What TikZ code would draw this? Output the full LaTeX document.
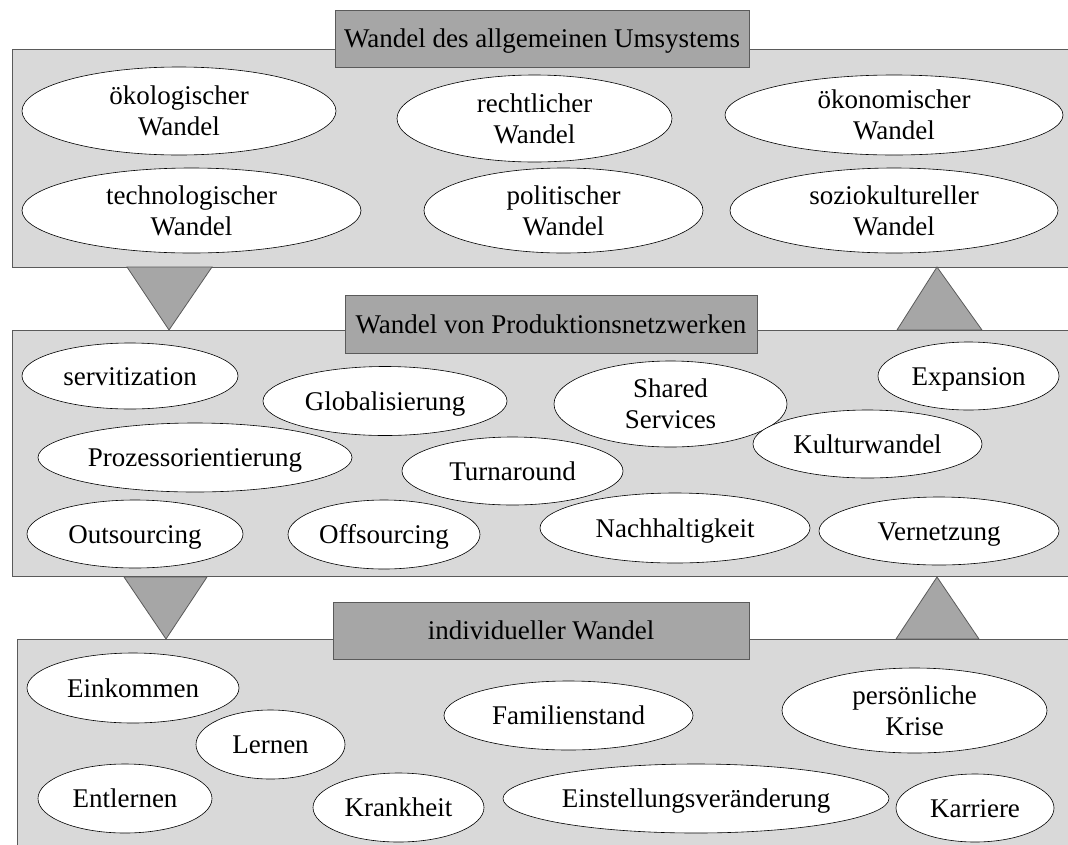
\documentclass[tikz,border=0pt]{standalone}
\usepackage{fontspec}
\setmainfont{Liberation Serif}
\usetikzlibrary{shapes.geometric}
\definecolor{panelgray}{HTML}{D9D9D9}
\definecolor{labelgray}{HTML}{A6A6A6}
\definecolor{edgegray}{HTML}{5A5A5A}
\begin{document}
\begin{tikzpicture}[x=1pt,y=-1pt,
  panel/.style={fill=panelgray, draw=edgegray, line width=1pt},
  caption/.style={rectangle, fill=labelgray, draw=edgegray, line width=1pt, inner sep=0pt,
    text height=18pt, text depth=0pt, font=\fontsize{27}{31}\selectfont},
  item/.style={ellipse, fill=white, draw=black, line width=0.6pt, inner sep=0pt, align=center,
    font=\fontsize{27}{31}\selectfont},
  oneline/.style={item, text height=18pt, text depth=0pt},
  flowtri/.style={fill=labelgray, draw=edgegray, line width=0.8pt, line join=miter}]
\useasboundingbox (0,0) rectangle (1068,844);
\clip (0,0) rectangle (1068,844);

% ---------- level 1: general environment ----------
\draw[panel] (12,49) rectangle (1075,267);
\node[caption, minimum width=414pt, minimum height=57pt] (capA) at (542,38.5) {Wandel des allgemeinen Umsystems};

\node[item, minimum width=314pt, minimum height=88pt] (oeko)  at (179,111)   {ökologischer\\Wandel};
\node[item, minimum width=275pt, minimum height=87pt] (recht) at (534.5,118.5) {rechtlicher\\Wandel};
\node[item, minimum width=338pt, minimum height=80pt] (oekon) at (894,115)   {ökonomischer\\Wandel};
\node[item, minimum width=339pt, minimum height=85pt] (tech)  at (191.5,210.5) {technologischer\\Wandel};
\node[item, minimum width=279pt, minimum height=85pt] (poli)  at (563.5,210.5) {politischer\\Wandel};
\node[item, minimum width=328pt, minimum height=85pt] (sozio) at (894,210.5) {soziokultureller\\Wandel};

% ---------- flow triangles between level 1 and 2 ----------
\draw[flowtri] (127,267) -- (212,267) -- (169,330) -- cycle;
\draw[flowtri] (897,330) -- (982,330) -- (937,267) -- cycle;

% ---------- level 2: production networks ----------
\draw[panel] (12,330) rectangle (1075,576);
\node[caption, minimum width=412pt, minimum height=58pt] (capB) at (551,324) {Wandel von Produktionsnetzwerken};

\node[oneline, minimum width=216pt, minimum height=66pt] (servi) at (130,376)   {servitization};
\node[oneline, minimum width=244pt, minimum height=69pt] (glob)  at (385,401)   {Globalisierung};
\node[item,    minimum width=233pt, minimum height=86pt] (shared) at (670.5,404) {Shared\\Services};
\node[oneline, minimum width=181pt, minimum height=68pt] (expa)  at (968.5,376) {Expansion};
\node[oneline, minimum width=314pt, minimum height=69pt] (proz)  at (195,457.5) {Prozessorientierung};
\node[oneline, minimum width=221pt, minimum height=68pt] (turn)  at (512.5,471) {Turnaround};
\node[oneline, minimum width=229pt, minimum height=68pt] (kult)  at (867.5,444) {Kulturwandel};
\node[oneline, minimum width=216pt, minimum height=68pt] (outs)  at (135,534)   {Outsourcing};
\node[oneline, minimum width=192pt, minimum height=69pt] (offs)  at (384,534.5) {Offsourcing};
\node[oneline, minimum width=270pt, minimum height=70pt] (nach)  at (675,528)   {Nachhaltigkeit};
\node[oneline, minimum width=240pt, minimum height=68pt] (vern)  at (939,531)   {Vernetzung};

% ---------- flow triangles between level 2 and 3 ----------
\draw[flowtri] (124,577) -- (207,577) -- (166,639) -- cycle;
\draw[flowtri] (896,639) -- (979,639) -- (937,577) -- cycle;

% ---------- level 3: individual ----------
\draw[panel] (17,639) rectangle (1075,860);
\node[caption, minimum width=416pt, minimum height=57pt] (capC) at (541,630.5) {individueller Wandel};

\node[oneline, minimum width=212pt, minimum height=70pt] (eink)  at (133,688)   {Einkommen};
\node[oneline, minimum width=149pt, minimum height=69pt] (lern)  at (270.5,744.5) {Lernen};
\node[oneline, minimum width=249pt, minimum height=69pt] (fam)   at (568.5,715.5) {Familienstand};
\node[item,    minimum width=265pt, minimum height=85pt] (krise) at (914.5,710.5) {persönliche\\Krise};
\node[oneline, minimum width=174pt, minimum height=69pt] (entl)  at (125,798.5) {Entlernen};
\node[oneline, minimum width=171pt, minimum height=69pt] (krank) at (398.5,807.5) {Krankheit};
\node[oneline, minimum width=386pt, minimum height=69pt] (einst) at (696,798.5) {Einstellungsveränderung};
\node[oneline, minimum width=158pt, minimum height=68pt] (karr)  at (975,808)   {Karriere};
\end{tikzpicture}
\end{document}
